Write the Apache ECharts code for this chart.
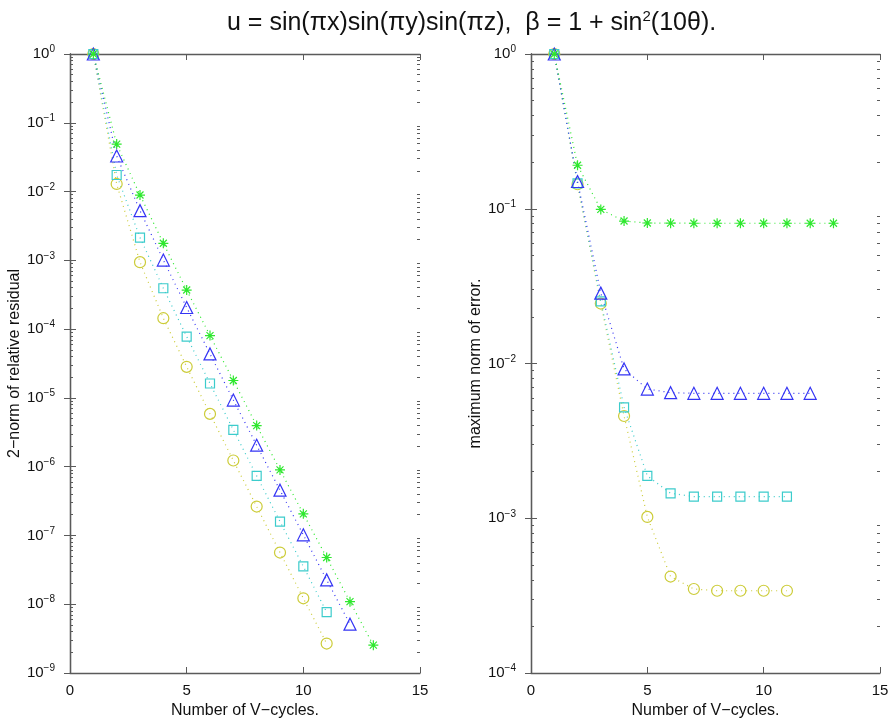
<!DOCTYPE html>
<html>
<head>
<meta charset="UTF-8">
<title>vcycle_convergence</title>
<script src="https://cdn.jsdelivr.net/npm/echarts@6/dist/echarts.min.js"></script>
<style>
  html, body { margin: 0; padding: 0; background: #fff; }
  #main { width: 892px; height: 724px; }
</style>
</head>
<body>
<div id="main"></div>
<script>
// V-cycle numbers
var cycles = [1, 2, 3, 4, 5, 6, 7, 8, 9, 10, 11, 12, 13];

// left panel: 2-norm of relative residual
var resGreen  = [1, 0.049, 0.0089, 0.00177, 3.7e-4, 8.05e-5, 1.79e-5, 3.96e-6, 8.98e-7, 2.06e-7, 4.78e-8, 1.09e-8, 2.54e-9];
var resBlue   = [1, 0.0329, 0.00528, 1.01e-3, 2.06e-4, 4.36e-5, 9.3e-6, 2.05e-6, 4.55e-7, 1.02e-7, 2.26e-8, 5.13e-9];
var resCyan   = [1, 0.0174, 0.00214, 3.93e-4, 7.8e-5, 1.62e-5, 3.43e-6, 7.35e-7, 1.59e-7, 3.54e-8, 7.67e-9];
var resYellow = [1, 0.0129, 9.4e-4, 1.44e-4, 2.83e-5, 5.85e-6, 1.23e-6, 2.63e-7, 5.64e-8, 1.22e-8, 2.68e-9];

// right panel: maximum norm of error
var errGreen  = [1, 0.191, 0.099, 0.0833, 0.0809, 0.0807, 0.0806, 0.0806, 0.0806, 0.0806, 0.0806, 0.0806, 0.0806];
var errBlue   = [1, 0.150, 0.0285, 0.00922, 0.00684, 0.00648, 0.00642, 0.00642, 0.00642, 0.00642, 0.00642, 0.00642];
var errCyan   = [1, 0.146, 0.0252, 0.00521, 0.00188, 0.00145, 0.00138, 0.00138, 0.00138, 0.00138, 0.00138];
var errYellow = [1, 0.144, 0.0244, 0.00458, 0.00102, 4.2e-4, 3.49e-4, 3.4e-4, 3.4e-4, 3.4e-4, 3.4e-4];

var xTicks = [0, 5, 10, 15];
var resTicks = [1e-9, 1e-8, 1e-7, 1e-6, 1e-5, 1e-4, 1e-3, 1e-2, 1e-1, 1];
var errTicks = [1e-4, 1e-3, 1e-2, 1e-1, 1];

var GREEN = '#2ee82e', BLUE = '#3434f4', CYAN = '#3ccccc', YELLOW = '#cccc38';
var FRAME = '#5a5a5a';
var STAR = 'path://M5,0L5,10M0,5L10,5M1.5,1.5L8.5,8.5M8.5,1.5L1.5,8.5';

function minorOf(ticks) {
  var out = [];
  for (var i = 0; i < ticks.length - 1; i++) {
    for (var m = 2; m <= 9; m++) out.push(ticks[i] * m);
  }
  return out;
}

function pts(vals) {
  return vals.map(function (v, i) { return [cycles[i], v]; });
}

function supLabel(v) {
  var e = Math.round(Math.log(v) / Math.LN10);
  var s = e < 0 ? '\u2212' + (-e) : '' + e;
  return '{b|10}{s|' + s + '}';
}

var tickFont = { fontFamily: 'Liberation Sans', fontSize: 15, color: '#111' };

function xAxes(grid) {
  var base = {
    type: 'value', gridIndex: grid, min: 0, max: 15, interval: 5,
    axisLine: { show: true, lineStyle: { color: FRAME, width: 1.3 } },
    axisTick: { show: true, inside: true, length: 6, lineStyle: { color: FRAME } },
    splitLine: { show: false }
  };
  var bottom = Object.assign({}, base, {
    position: 'bottom',
    axisLabel: Object.assign({ margin: 10, customValues: xTicks }, tickFont),
    name: 'Number of V\u2212cycles.', nameLocation: 'middle', nameGap: 30,
    nameTextStyle: { fontFamily: 'Liberation Sans', fontSize: 16, color: '#111' }
  });
  var top = Object.assign({}, base, { position: 'top', axisLabel: { show: false } });
  return [bottom, top];
}

function yAxes(grid, min, ticks, title, gap) {
  var minor = minorOf(ticks);
  var common = {
    type: 'log', logBase: 10, gridIndex: grid, min: min, max: 1,
    splitLine: { show: false }, minorTick: { show: false }
  };
  var mainLeft = Object.assign({}, common, {
    position: 'left',
    axisLine: { show: true, lineStyle: { color: FRAME, width: 1.3 } },
    axisTick: { show: true, inside: true, length: 6, customValues: ticks, lineStyle: { color: FRAME } },
    axisLabel: {
      show: true, margin: 15, customValues: ticks, formatter: supLabel,
      rich: {
        b: { fontFamily: 'Liberation Sans', fontSize: 15, color: '#111' },
        s: { fontFamily: 'Liberation Sans', fontSize: 10, color: '#111', verticalAlign: 'bottom', padding: [0, 0, 9, 0] }
      }
    },
    name: title, nameLocation: 'middle', nameGap: gap,
    nameTextStyle: { fontFamily: 'Liberation Sans', fontSize: 16, color: '#111' }
  });
  var mainRight = Object.assign({}, common, {
    position: 'right',
    axisLine: { show: true, lineStyle: { color: FRAME, width: 1.3 } },
    axisTick: { show: true, inside: true, length: 6, customValues: ticks, lineStyle: { color: FRAME } },
    axisLabel: { show: false }
  });
  var minorLeft = Object.assign({}, common, {
    position: 'left',
    axisLine: { show: false },
    axisTick: { show: true, inside: true, length: 3, customValues: minor, lineStyle: { color: FRAME } },
    axisLabel: { show: false }
  });
  var minorRight = Object.assign({}, minorLeft, { position: 'right' });
  return [mainLeft, mainRight, minorLeft, minorRight];
}

function line(vals, color, symbol, size, xi, yi) {
  return {
    type: 'line', xAxisIndex: xi, yAxisIndex: yi,
    data: pts(vals), symbol: symbol, symbolSize: size, showAllSymbol: true,
    lineStyle: { color: color, width: 1.2, type: [1, 4] },
    itemStyle: { color: 'rgba(0,0,0,0)', borderColor: color, borderWidth: 1.2 },
    emphasis: { disabled: true }
  };
}

var myChart = echarts.init(document.getElementById('main'));
var option = {
  animation: false,
  backgroundColor: '#fff',
  title: {
    left: 222, top: 4,
    text: '{a|u = sin(\u03c0x)sin(\u03c0y)sin(\u03c0z),  \u03b2 = 1 + sin}{s|2}{a|(10\u03b8).}',
    textStyle: {
      fontWeight: 'normal',
      rich: {
        a: { fontFamily: 'Liberation Sans', fontWeight: 'normal', fontSize: 25, color: '#111' },
        s: { fontFamily: 'Liberation Sans', fontWeight: 'normal', fontSize: 15, color: '#111', verticalAlign: 'bottom', padding: [0, 0, 13, 0] }
      }
    }
  },
  grid: [
    { left: 70, top: 54, width: 350, height: 619 },
    { left: 531, top: 54, width: 349, height: 619 }
  ],
  xAxis: xAxes(0).concat(xAxes(1)),
  yAxis: yAxes(0, 1e-9, resTicks, '2\u2212norm of relative residual', 46)
    .concat(yAxes(1, 1e-4, errTicks, 'maximum norm of error.', 45)),
  series: [
    line(resYellow, YELLOW, 'circle', 11, 0, 0),
    line(resCyan, CYAN, 'rect', 9, 0, 0),
    line(resBlue, BLUE, 'triangle', 12, 0, 0),
    line(resGreen, GREEN, STAR, 10, 0, 0),
    line(errYellow, YELLOW, 'circle', 11, 2, 4),
    line(errCyan, CYAN, 'rect', 9, 2, 4),
    line(errBlue, BLUE, 'triangle', 12, 2, 4),
    line(errGreen, GREEN, STAR, 10, 2, 4)
  ]
};
myChart.setOption(option);
</script>
</body>
</html>
